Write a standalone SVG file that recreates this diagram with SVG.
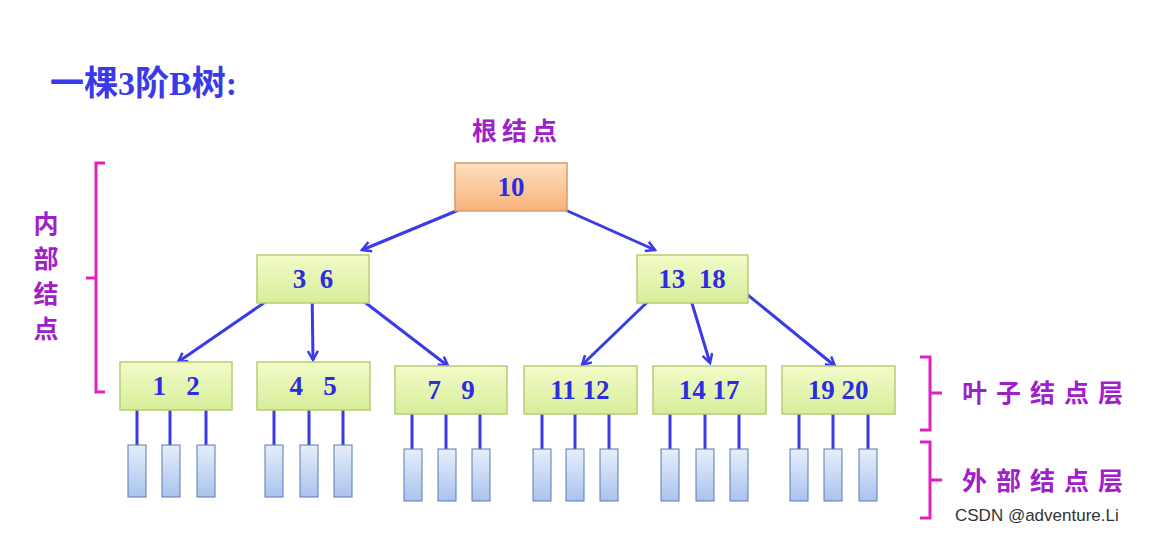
<svg xmlns="http://www.w3.org/2000/svg" width="1156" height="534" viewBox="0 0 1156 534">
<defs>
<linearGradient id="gg" x1="0" y1="0" x2="0" y2="1"><stop offset="0" stop-color="#f3fbc8"/><stop offset="1" stop-color="#d6ee9a"/></linearGradient>
<linearGradient id="go" x1="0" y1="0" x2="0" y2="1"><stop offset="0" stop-color="#fde0c0"/><stop offset="1" stop-color="#f8b27a"/></linearGradient>
<linearGradient id="gb" x1="0" y1="0" x2="0" y2="1"><stop offset="0" stop-color="#e6eefa"/><stop offset="1" stop-color="#a9c3ee"/></linearGradient>
<marker id="ar" viewBox="0 0 12 12" refX="10" refY="6" markerWidth="12" markerHeight="12" markerUnits="userSpaceOnUse" orient="auto"><path d="M1,1 L10,6 L1,11" fill="none" stroke="#3a3ae8" stroke-width="2.5"/></marker>
</defs>
<style>
.n{fill:url(#gg);stroke:#b8cc78;stroke-width:1.5}
.r{fill:url(#go);stroke:#d89a6a;stroke-width:1.5}
.e{fill:url(#gb);stroke:#5a7ab0;stroke-width:1}
.t{font-family:"Liberation Serif",serif;font-weight:bold;font-size:27px;fill:#2c2ce0;text-anchor:middle;white-space:pre}
.c{stroke:#3a3ae8;stroke-width:3;fill:none}
.a{stroke:#3a3ae8;stroke-width:3;fill:none;marker-end:url(#ar)}
.p{font-family:"Noto Sans CJK SC",sans-serif;font-weight:bold;font-size:25px;fill:#a020c8}
.b{stroke:#e020c0;stroke-width:3;fill:none}
</style>
<rect width="1156" height="534" fill="#fff"/>
<text x="50" y="95" font-family="'Liberation Serif','Noto Sans CJK SC',serif" font-weight="bold" font-size="34" fill="#3a3ae8">一棵3阶B树:</text>
<text class="p" x="472" y="140" letter-spacing="5">根结点</text>
<g class="p" text-anchor="middle"><text x="46" y="233">内</text><text x="46" y="268">部</text><text x="46" y="303">结</text><text x="46" y="338">点</text></g>
<text class="p" x="962" y="402" letter-spacing="9">叶子结点层</text>
<text class="p" x="962" y="490" letter-spacing="9">外部结点层</text>
<g id="brackets">
<path class="b" d="M105,163 H96 V392 H105 M96,278 H86"/>
<path class="b" d="M920,357 H930 V430 H920 M930,393 H942"/>
<path class="b" d="M920,442 H930 V518 H920 M930,480 H942"/>
</g>
<g id="connectors">
<line class="a" x1="490" y1="197" x2="362" y2="250"/>
<line class="a" x1="543" y1="200" x2="655" y2="250"/>
<line class="a" x1="290" y1="285" x2="178" y2="362"/>
<line class="a" x1="312" y1="287" x2="313" y2="360"/>
<line class="a" x1="345" y1="287" x2="448" y2="366"/>
<line class="a" x1="665" y1="285" x2="582" y2="365"/>
<line class="a" x1="688" y1="290" x2="710" y2="363"/>
<line class="a" x1="738" y1="287" x2="835" y2="366"/>
<path class="c" d="M137,410V445M170,410V445M206,410V445M274,410V445M309,410V445M343,410V445M412,414V449M446,414V449M480,414V449M542,414V449M575,414V449M609,414V449M670,414V449M705,414V449M739,414V449M799,414V449M833,414V449M868,414V449"/>
</g>
<g id="root"><rect class="r" x="455" y="163" width="112" height="48"/><text class="t" x="511" y="196">10</text></g>
<g id="n36"><rect class="n" x="257" y="255" width="112" height="48"/><text class="t" x="313" y="288">3  6</text></g>
<g id="n1318"><rect class="n" x="637" y="255" width="111" height="48"/><text class="t" x="692" y="288">13  18</text></g>
<g id="l12"><rect class="n" x="120" y="362" width="112" height="48"/><text class="t" x="176" y="395">1   2</text></g>
<g id="l45"><rect class="n" x="257" y="362" width="113" height="48"/><text class="t" x="313" y="395">4   5</text></g>
<g id="l79"><rect class="n" x="395" y="366" width="112" height="48"/><text class="t" x="451" y="399">7   9</text></g>
<g id="l1112"><rect class="n" x="524" y="366" width="113" height="48"/><text class="t" x="580" y="399">11 12</text></g>
<g id="l1417"><rect class="n" x="653" y="366" width="113" height="48"/><text class="t" x="709" y="399">14 17</text></g>
<g id="l1920"><rect class="n" x="782" y="366" width="113" height="48"/><text class="t" x="838" y="399">19 20</text></g>
<g id="ext">
<rect class="e" x="128" y="445" width="18" height="52"/><rect class="e" x="162" y="445" width="18" height="52"/><rect class="e" x="197" y="445" width="18" height="52"/>
<rect class="e" x="265" y="445" width="18" height="52"/><rect class="e" x="300" y="445" width="18" height="52"/><rect class="e" x="334" y="445" width="18" height="52"/>
<rect class="e" x="404" y="449" width="18" height="52"/><rect class="e" x="438" y="449" width="18" height="52"/><rect class="e" x="472" y="449" width="18" height="52"/>
<rect class="e" x="533" y="449" width="18" height="52"/><rect class="e" x="566" y="449" width="18" height="52"/><rect class="e" x="600" y="449" width="18" height="52"/>
<rect class="e" x="661" y="449" width="18" height="52"/><rect class="e" x="696" y="449" width="18" height="52"/><rect class="e" x="730" y="449" width="18" height="52"/>
<rect class="e" x="790" y="449" width="18" height="52"/><rect class="e" x="824" y="449" width="18" height="52"/><rect class="e" x="859" y="449" width="18" height="52"/>
</g>
<text x="955" y="521" font-family="'Liberation Sans',sans-serif" font-size="17" fill="#333">CSDN @adventure.Li</text>
</svg>
